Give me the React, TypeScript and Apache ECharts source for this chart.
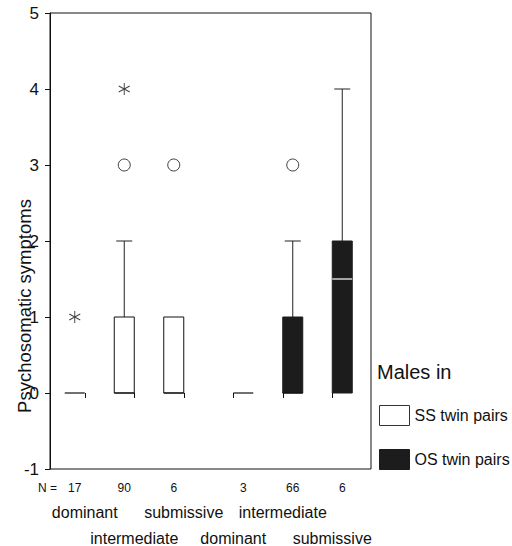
import React, { useEffect, useRef } from "react";
import * as echarts from "echarts";

const FONT = "'Liberation Sans', Arial, Helvetica, sans-serif";

const roles = ["dominant", "intermediate", "submissive", "dominant", "intermediate", "submissive"];
const yTicks = [-1, 0, 1, 2, 3, 4, 5];

// [categoryIndex, min, q1, median, q3, max, N]
const ssBoxes = [
  [0, 0, 0, 0, 0, 0, 17],
  [1, 0, 0, 0, 1, 2, 90],
  [2, 0, 0, 0, 1, 1, 6],
];
const osBoxes = [
  [3, 0, 0, 0, 0, 0, 3],
  [4, 0, 0, 0, 1, 2, 66],
  [5, 0, 0, 1.5, 2, 4, 6],
];
// outliers: [categoryIndex, value]
const ssCircles = [[1, 3], [2, 3]];
const ssStars = [[0, 1], [1, 4]];
const osCircles = [[4, 3]];
const osStars: number[][] = [];

const STAR = "path://M0,-6L0,6M-5.2,-3L5.2,3M-5.2,3L5.2,-3";

function makeRender(offset: number, fill: string, innerMedian: string) {
  return (params: any, api: any) => {
    const cat = api.value(0);
    const vMin = api.value(1);
    const q1 = api.value(2);
    const med = api.value(3);
    const q3 = api.value(4);
    const vMax = api.value(5);
    const n = api.value(6);
    const cx = api.coord([cat, 0])[0] + offset;
    const yMin = api.coord([cat, vMin])[1];
    const yQ1 = api.coord([cat, q1])[1];
    const yMed = api.coord([cat, med])[1];
    const yQ3 = api.coord([cat, q3])[1];
    const yMax = api.coord([cat, vMax])[1];
    const yBottom = api.coord([cat, yTicks[0]])[1];
    const hw = 10;
    const cap = 8;
    const children: any[] = [];
    const wl = { stroke: "#222", lineWidth: 1 };
    if (vMax > q3) {
      children.push({ type: "line", shape: { x1: cx, y1: yQ3, x2: cx, y2: yMax }, style: wl });
      children.push({ type: "line", shape: { x1: cx - cap, y1: yMax, x2: cx + cap, y2: yMax }, style: wl });
    }
    if (vMin < q1) {
      children.push({ type: "line", shape: { x1: cx, y1: yQ1, x2: cx, y2: yMin }, style: wl });
      children.push({ type: "line", shape: { x1: cx - cap, y1: yMin, x2: cx + cap, y2: yMin }, style: wl });
    }
    if (q3 > q1) {
      children.push({
        type: "rect",
        shape: { x: cx - hw, y: yQ3, width: hw * 2, height: yQ1 - yQ3 },
        style: { fill, stroke: fill === "#ffffff" ? "#111" : fill, lineWidth: 1 },
      });
    }
    const medColor = med > q1 && med < q3 ? innerMedian : "#111";
    children.push({
      type: "line",
      shape: { x1: cx - hw, y1: yMed, x2: cx + hw, y2: yMed },
      style: { stroke: medColor, lineWidth: 1.2 },
    });
    children.push({
      type: "text",
      x: cx,
      y: yBottom + 19,
      style: {
        text: String(n),
        align: "center",
        verticalAlign: "middle",
        textAlign: "center",
        textVerticalAlign: "middle",
        fontSize: 12,
        fontFamily: FONT,
        fill: "#111",
      },
    });
    return { type: "group", children };
  };
}

export default function App() {
  const ref = useRef<HTMLDivElement>(null);
  useEffect(() => {
    if (!ref.current) return;
    const chart = echarts.init(ref.current, undefined, { renderer: "svg" });
    const circleStyle = { color: "#ffffff", borderColor: "#111", borderWidth: 1 };
    const starStyle = { color: "transparent", borderColor: "#111", borderWidth: 1 };
    chart.setOption({
      animation: false,
      backgroundColor: "#ffffff",
      textStyle: { fontFamily: FONT },
      grid: [
        { left: 60, right: 155, top: 13, bottom: 77, containLabel: false, outerBoundsMode: "none" },
        {
          left: 50, right: 141, top: 13, bottom: 77, containLabel: false, outerBoundsMode: "none",
          show: true, borderColor: "#111", borderWidth: 1, backgroundColor: "transparent",
        },
      ],
      xAxis: [
        {
          type: "category",
          gridIndex: 0,
          data: roles.map((r, i) => r + "#" + i),
          axisLine: { show: false },
          axisTick: { show: true, alignWithLabel: true, interval: 0, length: 5, lineStyle: { color: "#111" } },
          axisLabel: {
            interval: 0,
            fontSize: 16,
            lineHeight: 26,
            margin: 30,
            color: "#111",
            fontFamily: FONT,
            formatter: (_v: string, i: number) => (i % 2 === 1 ? "\n" + roles[i] : roles[i]),
          },
          splitLine: { show: false },
        },
        { type: "value", gridIndex: 1, min: 0, max: 1, show: false },
      ],
      yAxis: [
        { type: "value", gridIndex: 0, min: yTicks[0], max: yTicks[yTicks.length - 1], interval: 1, show: false },
        {
          type: "value",
          gridIndex: 1,
          min: yTicks[0],
          max: yTicks[yTicks.length - 1],
          interval: 1,
          axisLine: { show: true, lineStyle: { color: "#111" } },
          axisTick: { show: true, length: 5, lineStyle: { color: "#111" } },
          axisLabel: { fontSize: 17, margin: 11, color: "#111", fontFamily: FONT },
          splitLine: { show: false },
        },
      ],
      legend: {
        left: 379,
        top: 405,
        orient: "vertical",
        itemWidth: 30,
        itemHeight: 20,
        itemGap: 23,
        padding: 0,
        selectedMode: false,
        textStyle: { fontSize: 16, color: "#111", fontFamily: FONT, padding: [8, 0, 0, 0] },
        data: [
          { name: "SS twin pairs", icon: "rect", itemStyle: { color: "#ffffff", borderColor: "#333", borderWidth: 1 } },
          { name: "OS twin pairs", icon: "rect", itemStyle: { color: "#1c1c1c", borderColor: "#1c1c1c", borderWidth: 1 } },
        ],
      },
      graphic: [
        {
          type: "text",
          x: 24,
          y: 306,
          rotation: Math.PI / 2,
          style: {
            text: "Psychosomatic symptoms",
            align: "center",
            verticalAlign: "middle",
            textAlign: "center",
            textVerticalAlign: "middle",
            fontSize: 18.5,
            fontFamily: FONT,
            fill: "#111",
          },
        },
        {
          type: "text",
          x: 38,
          y: 488,
          style: {
            text: "N =",
            align: "left",
            verticalAlign: "middle",
            textAlign: "left",
            textVerticalAlign: "middle",
            fontSize: 12,
            fontFamily: FONT,
            fill: "#111",
          },
        },
        {
          type: "text",
          x: 377,
          y: 372,
          style: {
            text: "Males in",
            align: "left",
            verticalAlign: "middle",
            textAlign: "left",
            textVerticalAlign: "middle",
            fontSize: 20,
            fontFamily: FONT,
            fill: "#111",
          },
        },
      ],
      series: [
        {
          name: "SS twin pairs",
          type: "custom",
          xAxisIndex: 0,
          yAxisIndex: 0,
          itemStyle: { color: "#ffffff", borderColor: "#333" },
          encode: { x: 0, y: [1, 2, 3, 4, 5] },
          renderItem: makeRender(-10, "#ffffff", "#111"),
          data: ssBoxes,
          z: 2,
        },
        {
          name: "OS twin pairs",
          type: "custom",
          xAxisIndex: 0,
          yAxisIndex: 0,
          itemStyle: { color: "#1c1c1c" },
          encode: { x: 0, y: [1, 2, 3, 4, 5] },
          renderItem: makeRender(10, "#1c1c1c", "#ffffff"),
          data: osBoxes,
          z: 2,
        },
        { type: "scatter", name: "ss-o", symbol: "circle", symbolSize: 12, symbolOffset: [-10, 0], itemStyle: circleStyle, data: ssCircles, z: 3 },
        { type: "scatter", name: "ss-*", symbol: STAR, symbolSize: [11, 12], symbolOffset: [-10, 0], itemStyle: starStyle, data: ssStars, z: 3 },
        { type: "scatter", name: "os-o", symbol: "circle", symbolSize: 12, symbolOffset: [10, 0], itemStyle: circleStyle, data: osCircles, z: 3 },
        { type: "scatter", name: "os-*", symbol: STAR, symbolSize: [11, 12], symbolOffset: [10, 0], itemStyle: starStyle, data: osStars, z: 3 },
      ],
    });
    return () => chart.dispose();
  }, []);
  return <div ref={ref} style={{ position: "fixed", left: 0, top: 0, width: 512, height: 546 }} />;
}
